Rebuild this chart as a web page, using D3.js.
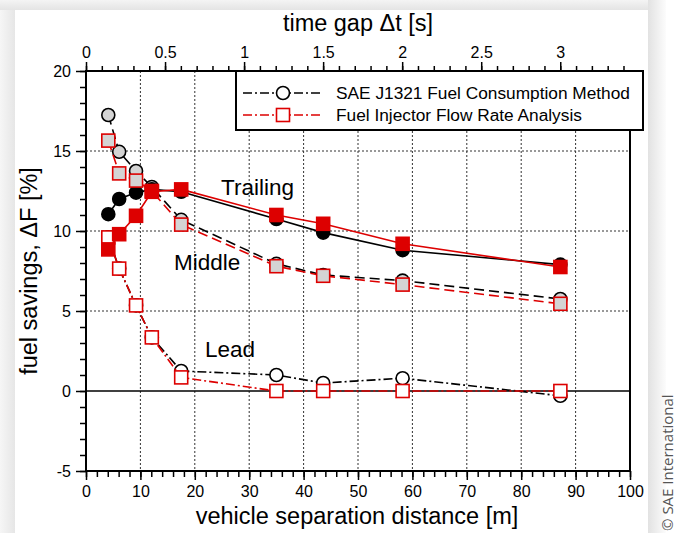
<!DOCTYPE html>
<html>
<head>
<meta charset="utf-8">
<script src="https://cdn.jsdelivr.net/npm/d3@7"></script>
<style>
  body { margin: 0; background: #fff; }
  svg text { font-family: "Liberation Sans", Arial, sans-serif; fill: #000; }
</style>
</head>
<body>
<div id="chart"></div>
<script>
// chart data
var distance = [4.1, 6.1, 9.2, 12.1, 17.5, 35.0, 43.6, 58.2, 87.2];
var saeTrailing = [11.05, 12.0, 12.4, 12.6, 12.45, 10.75, 9.9, 8.8, 7.9];
var fifraTrailing = [8.85, 9.8, 10.95, 12.45, 12.6, 11.0, 10.45, 9.2, 7.75];
var saeMiddle = [17.25, 14.95, 13.75, 12.75, 10.7, 7.95, 7.25, 6.9, 5.75];
var fifraMiddle = [15.65, 13.6, 13.15, 12.5, 10.4, 7.8, 7.2, 6.65, 5.45];
var saeLead = [9.6, 7.65, 5.35, 3.35, 1.25, 1.0, 0.5, 0.8, -0.3];
var fifraLead = [9.6, 7.65, 5.35, 3.35, 0.85, 0, 0, 0, 0];

var xTicks = [0, 10, 20, 30, 40, 50, 60, 70, 80, 90, 100];
var yTicks = [-5, 0, 5, 10, 15, 20];
var tTicks = [0, 0.5, 1, 1.5, 2, 2.5, 3];
var legendLabels = ["SAE J1321 Fuel Consumption Method", "Fuel Injector Flow Rate Analysis"];
var speed = 29.06; // m/s, links distance and time gap

var svgWidth = 684, svgHeight = 533;
var margin = {top: 71, right: 54, bottom: 62, left: 86};
var width = svgWidth - margin.left - margin.right;
var height = svgHeight - margin.top - margin.bottom;

var svg = d3.select("#chart").append("svg")
    .attr("width", svgWidth)
    .attr("height", svgHeight);

// page card + shadow
var defs = svg.append("defs");
var gr = defs.append("linearGradient").attr("id", "shR");
gr.append("stop").attr("offset", "0%").attr("stop-color", "#e2e2e2");
gr.append("stop").attr("offset", "100%").attr("stop-color", "#fcfcfc");
var gl = defs.append("linearGradient").attr("id", "shL");
gl.append("stop").attr("offset", "0%").attr("stop-color", "#f6f6f6");
gl.append("stop").attr("offset", "100%").attr("stop-color", "#e6e6e6");
var gt = defs.append("linearGradient").attr("id", "shT").attr("x2", 0).attr("y2", 1);
gt.append("stop").attr("offset", "0%").attr("stop-color", "#f4f4f4");
gt.append("stop").attr("offset", "100%").attr("stop-color", "#e4e4e4");

svg.append("rect").attr("width", svgWidth).attr("height", svgHeight).attr("fill", "#fff");
svg.append("rect").attr("x", 0).attr("y", 0).attr("width", 15).attr("height", svgHeight).attr("fill", "url(#shL)");
svg.append("rect").attr("x", 0).attr("y", 0).attr("width", 660).attr("height", 10).attr("fill", "url(#shT)");
svg.append("rect").attr("x", 648).attr("y", 0).attr("width", 18).attr("height", svgHeight).attr("fill", "url(#shR)");
svg.append("rect").attr("x", 15).attr("y", 10).attr("width", 633).attr("height", svgHeight - 10).attr("fill", "#fff");

var chartGroup = svg.append("g")
    .attr("transform", `translate(${margin.left},${margin.top})`);

var x = d3.scaleLinear().domain([0, 100]).range([0, width]);
var y = d3.scaleLinear().domain([-5, 20]).range([height, 0]);
var xTop = d3.scaleLinear().domain([0, 100 / speed]).range([0, width]);

// grid lines
chartGroup.selectAll(".vgrid")
    .data(xTicks.slice(1, -1))
    .enter().append("line")
    .attr("x1", d => x(d)).attr("x2", d => x(d))
    .attr("y1", 0).attr("y2", height)
    .attr("stroke", "#333").attr("stroke-width", 1)
    .attr("stroke-dasharray", "2,2");

chartGroup.selectAll(".hgrid")
    .data([5, 10, 15])
    .enter().append("line")
    .attr("x1", 0).attr("x2", width)
    .attr("y1", d => y(d)).attr("y2", d => y(d))
    .attr("stroke", "#333").attr("stroke-width", 1)
    .attr("stroke-dasharray", "2,2");

chartGroup.append("line")
    .attr("x1", 0).attr("x2", width)
    .attr("y1", y(0)).attr("y2", y(0))
    .attr("stroke", "#000").attr("stroke-width", 1.6);

// axes
function styleAxis(g) {
    g.select(".domain").remove();
    g.selectAll("line").attr("stroke", "#000").attr("stroke-width", 1.5);
    g.selectAll("text").style("font-size", "16px").style("font-family", "Liberation Sans, Arial, sans-serif");
}

var bottomAxis = d3.axisBottom(x).tickValues(xTicks).tickSize(9).tickPadding(6);
chartGroup.append("g")
    .attr("transform", `translate(0,${height})`)
    .call(bottomAxis).call(styleAxis);
chartGroup.append("g")
    .attr("transform", `translate(0,${height})`)
    .call(d3.axisBottom(x).tickValues(d3.range(0, 101, 2)).tickSize(6).tickFormat(""))
    .call(styleAxis);

var leftAxis = d3.axisLeft(y).tickValues(yTicks).tickSize(10).tickPadding(5).tickFormat(d => String(d));
chartGroup.append("g").call(leftAxis).call(styleAxis);
chartGroup.append("g")
    .call(d3.axisLeft(y).tickValues(d3.range(-5, 21, 1)).tickSize(6).tickFormat(""))
    .call(styleAxis);

var topAxis = d3.axisTop(xTop).tickValues(tTicks).tickSize(9).tickPadding(4).tickFormat(d => String(d));
chartGroup.append("g").call(topAxis).call(styleAxis);
chartGroup.append("g")
    .call(d3.axisTop(xTop).tickValues(d3.range(0, 35).map(d => d / 10)).tickSize(5).tickFormat(""))
    .call(styleAxis);

// frame
chartGroup.append("rect")
    .attr("width", width).attr("height", height)
    .attr("fill", "none").attr("stroke", "#000").attr("stroke-width", 2);

// series
var line = d3.line()
    .x((d, i) => x(distance[i]))
    .y(d => y(d));

var red = "#dd0000";
var series = [
    {values: saeLead, color: "#000", dash: "9,3,2,3", fill: "#fff", shape: "circle"},
    {values: saeMiddle, color: "#000", dash: "10,5", fill: "#d4d4d4", shape: "circle"},
    {values: saeTrailing, color: "#000", dash: null, fill: "#000", shape: "circle"},
    {values: fifraLead, color: red, dash: "9,3,2,3", fill: "#fff", shape: "square"},
    {values: fifraMiddle, color: red, dash: "10,5", fill: "#d4d4d4", shape: "square"},
    {values: fifraTrailing, color: red, dash: null, fill: red, shape: "square"}
];

function drawMarkers(g, values, s) {
    if (s.shape === "circle") {
        g.selectAll("circle")
            .data(values)
            .enter().append("circle")
            .attr("cx", (d, i) => x(distance[i]))
            .attr("cy", d => y(d))
            .attr("r", 6.5)
            .attr("fill", s.fill)
            .attr("stroke", s.color).attr("stroke-width", 1.6);
    } else {
        g.selectAll("rect")
            .data(values)
            .enter().append("rect")
            .attr("x", (d, i) => x(distance[i]) - 6.5)
            .attr("y", d => y(d) - 6.5)
            .attr("width", 13).attr("height", 13)
            .attr("fill", s.fill)
            .attr("stroke", s.color).attr("stroke-width", 1.6);
    }
}

series.forEach(function(s) {
    var g = chartGroup.append("g");
    g.append("path")
        .attr("d", line(s.values))
        .attr("fill", "none")
        .attr("stroke", s.color)
        .attr("stroke-width", 1.6)
        .attr("stroke-dasharray", s.dash);
    drawMarkers(g, s.values, s);
});

// annotations
chartGroup.append("text").attr("x", 135).attr("y", 124).text("Trailing").style("font-size", "22.5px");
chartGroup.append("text").attr("x", 88).attr("y", 199).text("Middle").style("font-size", "22.5px");
chartGroup.append("text").attr("x", 119).attr("y", 286).text("Lead").style("font-size", "22.5px");

// legend
var legend = svg.append("g");
legend.append("rect")
    .attr("x", 236).attr("y", 71).attr("width", 407).attr("height", 59)
    .attr("fill", "#fff").attr("stroke", "#000").attr("stroke-width", 2);

legendLabels.forEach(function(label, i) {
    var s = series[i * 3];
    var ly = 93 + i * 22;
    var lg = legend.append("g");
    lg.append("line")
        .attr("x1", 243).attr("x2", 323)
        .attr("y1", ly).attr("y2", ly)
        .attr("stroke", s.color).attr("stroke-width", 1.6)
        .attr("stroke-dasharray", "9,3,2,3");
    if (s.shape === "circle") {
        lg.append("circle").attr("cx", 283).attr("cy", ly).attr("r", 6.5)
            .attr("fill", "#fff").attr("stroke", s.color).attr("stroke-width", 1.6);
    } else {
        lg.append("rect").attr("x", 283 - 6.5).attr("y", ly - 6.5).attr("width", 13).attr("height", 13)
            .attr("fill", "#fff").attr("stroke", s.color).attr("stroke-width", 1.6);
    }
    lg.append("text").attr("x", 336).attr("y", ly).attr("dy", "0.35em")
        .text(label).style("font-size", "17.3px");
});

// axis titles
svg.append("text").attr("x", 358).attr("y", 31).attr("text-anchor", "middle")
    .text("time gap \u0394t [s]").style("font-size", "23.5px");
svg.append("text").attr("x", 357).attr("y", 524).attr("text-anchor", "middle")
    .text("vehicle separation distance [m]").style("font-size", "23.5px");
svg.append("text")
    .attr("transform", `translate(37,${margin.top + height / 2}) rotate(-90)`)
    .attr("text-anchor", "middle")
    .text("fuel savings, \u0394F [%]").style("font-size", "23.5px");

// credit
svg.append("text")
    .attr("transform", "translate(673,531) rotate(-90)")
    .text("\u00a9 SAE International")
    .style("font-size", "15px")
    .style("font-family", "Open Sans, DejaVu Sans, sans-serif")
    .style("fill", "#555");
</script>
</body>
</html>
